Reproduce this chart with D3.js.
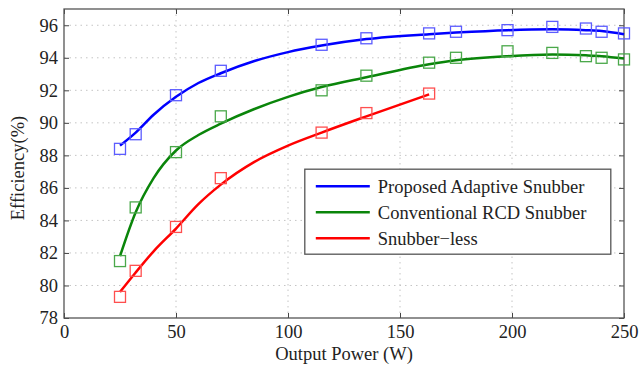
<!DOCTYPE html>
<html>
<head>
<meta charset="utf-8">
<script src="https://cdn.jsdelivr.net/npm/d3@7"></script>
<style>
  body { margin: 0; background: #fff; }
  svg text { font-family: "Liberation Serif", "Times New Roman", serif; fill: #222; }
  .grid line { stroke: #c4c4c4; stroke-dasharray: 1.5 4; }
</style>
</head>
<body>
<svg width="642" height="365"></svg>
<script>
// measured points (square markers)
var powerX = [25, 32, 50, 70, 115, 135, 163, 175, 198, 218, 233, 240, 250];
var adaptivePts = [88.4, 89.3, 91.7, 93.2, 94.8, 95.2, 95.5, 95.6, 95.7, 95.9, 95.8, 95.6, 95.5];
var rcdPts = [81.5, 84.8, 88.2, 90.4, 92.0, 92.9, 93.7, 94.0, 94.4, 94.3, 94.1, 94.0, 93.9];
var lessX = [25, 32, 50, 70, 115, 135, 163];
var lessPts = [79.3, 80.9, 83.6, 86.6, 89.4, 90.6, 91.8];

// fitted curves
var fitX = [25, 32, 40, 50, 60, 70, 85, 100, 115, 135, 163, 175, 198, 218, 233, 240, 250];
var adaptiveFit = [88.6, 89.4, 90.5, 91.6, 92.45, 93.05, 93.8, 94.35, 94.75, 95.15, 95.45, 95.55, 95.7, 95.75, 95.7, 95.65, 95.45];
var rcdFit = [81.8, 84.5, 86.6, 88.3, 89.25, 89.95, 90.85, 91.6, 92.2, 92.8, 93.6, 93.85, 94.1, 94.2, 94.15, 94.1, 93.95];
var lessFitX = [25, 32, 40, 50, 60, 70, 85, 100, 115, 135, 163];
var lessFit = [79.6, 80.8, 82.1, 83.5, 85.0, 86.2, 87.6, 88.6, 89.4, 90.4, 91.75];

var xTicks = [0, 50, 100, 150, 200, 250];
var yTicks = [78, 80, 82, 84, 86, 88, 90, 92, 94, 96];
var seriesNames = ["Proposed Adaptive Snubber", "Conventional RCD Snubber", "Snubber\u2212less"];

var svg = d3.select("svg"),
	margin = {top: 9, right: 18, bottom: 47, left: 64},
	width = 642 - margin.left - margin.right,
	height = 365 - margin.top - margin.bottom,
	fontSize = "18.5px";

var g = svg.append("g")
	.attr("transform", "translate(" + margin.left + "," + margin.top + ")");

var x = d3.scaleLinear().domain([0, 250]).range([0, width]);
var y = d3.scaleLinear().domain([78, 97]).range([height, 0]);

// dotted grid
g.append("g").attr("class", "grid")
	.selectAll("line").data(xTicks.slice(1, -1)).join("line")
	.attr("x1", function(d) { return x(d); }).attr("x2", function(d) { return x(d); })
	.attr("y1", 0).attr("y2", height);
g.append("g").attr("class", "grid")
	.selectAll("line").data(yTicks.slice(1)).join("line")
	.attr("x1", 0).attr("x2", width)
	.attr("y1", function(d) { return y(d); }).attr("y2", function(d) { return y(d); });

// axes with inward ticks, on all four sides
function styleAxis(sel) {
	sel.select(".domain").remove();
	sel.selectAll(".tick line").attr("stroke", "#444");
	sel.selectAll("text").style("font-size", fontSize).attr("fill", "#222");
}
g.append("g").attr("transform", "translate(0," + height + ")")
	.call(d3.axisBottom(x).tickValues(xTicks).tickSize(-5).tickPadding(7))
	.call(styleAxis);
g.append("g")
	.call(d3.axisLeft(y).tickValues(yTicks).tickSize(-5).tickPadding(6))
	.call(styleAxis);
g.append("g")
	.call(d3.axisTop(x).tickValues(xTicks).tickSize(-5).tickFormat(""))
	.call(styleAxis);
g.append("g").attr("transform", "translate(" + width + ",0)")
	.call(d3.axisRight(y).tickValues(yTicks).tickSize(-5).tickFormat(""))
	.call(styleAxis);

g.append("rect")
	.attr("width", width).attr("height", height)
	.attr("fill", "none").attr("stroke", "#555").attr("stroke-width", 1.3);

var series = [
	{name: seriesNames[0], color: "#0000ff", mark: "#5c5cff", px: powerX, pts: adaptivePts, fx: fitX, fit: adaptiveFit},
	{name: seriesNames[1], color: "#0a850a", mark: "#4aa84a", px: powerX, pts: rcdPts, fx: fitX, fit: rcdFit},
	{name: seriesNames[2], color: "#ff0000", mark: "#ff4f4f", px: lessX, pts: lessPts, fx: lessFitX, fit: lessFit}
];

var line = d3.line()
	.x(function(d) { return x(d[0]); })
	.y(function(d) { return y(d[1]); })
	.curve(d3.curveMonotoneX);

series.forEach(function(s) {
	g.append("path")
		.datum(d3.zip(s.fx, s.fit))
		.attr("fill", "none")
		.attr("stroke", s.color)
		.attr("stroke-width", 2.5)
		.attr("d", line);

	g.append("g").selectAll("rect")
		.data(d3.zip(s.px, s.pts)).join("rect")
		.attr("x", function(d) { return x(d[0]) - 5.5; })
		.attr("y", function(d) { return y(d[1]) - 5.5; })
		.attr("width", 11).attr("height", 11)
		.attr("fill", "none")
		.attr("stroke", s.mark)
		.attr("stroke-width", 1.3);
});

// legend
var legend = g.append("g").attr("transform", "translate(" + (x(107.5)) + "," + (y(87.15)) + ")");
legend.append("rect")
	.attr("width", 306).attr("height", 85)
	.attr("fill", "#fff").attr("stroke", "#555").attr("stroke-width", 1.3);
series.forEach(function(s, i) {
	var ly = 17 + i * 26;
	legend.append("line")
		.attr("x1", 11).attr("x2", 65)
		.attr("y1", ly).attr("y2", ly)
		.attr("stroke", s.color).attr("stroke-width", 2.5);
	legend.append("text")
		.attr("x", 73).attr("y", ly)
		.attr("dy", "0.35em")
		.style("font-size", fontSize)
		.text(s.name);
});

// axis titles
svg.append("text")
	.attr("x", margin.left + width / 2).attr("y", 360)
	.attr("text-anchor", "middle")
	.style("font-size", fontSize)
	.text("Output Power (W)");
svg.append("text")
	.attr("transform", "translate(24,168) rotate(-90)")
	.attr("text-anchor", "middle")
	.style("font-size", fontSize)
	.text("Efficiency(%)");
</script>
</body>
</html>
